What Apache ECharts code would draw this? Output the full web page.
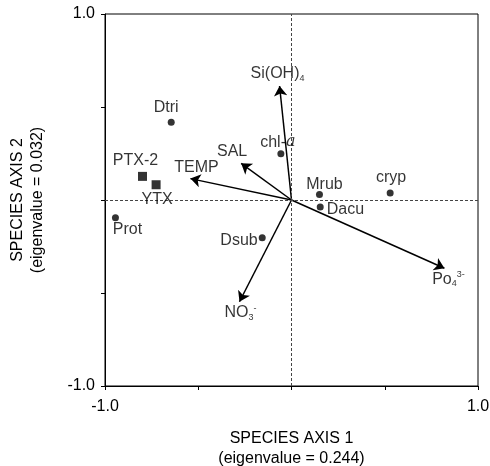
<!DOCTYPE html>
<html>
<head>
<meta charset="utf-8">
<script src="https://cdn.jsdelivr.net/npm/echarts@6/dist/echarts.min.js"></script>
<style>
  html, body { margin: 0; padding: 0; background: #fff; }
  #chart { width: 490px; height: 466px; }
</style>
</head>
<body>
<div id="chart"></div>
<script>
// species / toxin scores
var speciesNames = ['Dtri', 'chl-a', 'PTX-2', 'YTX', 'Prot', 'Dsub', 'Mrub', 'Dacu', 'cryp'];
var speciesX = [-0.645, -0.057, -0.799, -0.726, -0.944, -0.157, 0.150, 0.154, 0.529];
var speciesY = [0.418, 0.249, 0.127, 0.082, -0.095, -0.203, 0.029, -0.038, 0.038];
var toxinNames = ['PTX-2', 'YTX'];

// environmental vectors (arrow tips)
var envNames = ['Si(OH)4', 'SAL', 'TEMP', 'PO4', 'NO3'];
var envX = [-0.064, -0.27, -0.542, 0.82, -0.279];
var envY = [0.613, 0.197, 0.115, -0.367, -0.547];

var axisTicks = [-1, 1];

var FONT = 'Liberation Sans, Arial, sans-serif';

var envText = {
  'Si(OH)4': 'Si(OH){sub|4}',
  'SAL': 'SAL',
  'TEMP': 'TEMP',
  'PO4': 'Po{sub|4}{sup|3-}',
  'NO3': 'NO{sub|3}{sup|-}'
};
var speciesText = { 'chl-a': 'chl-{it|a}' };

var speciesLabel = {
  'Dtri': { position: 'top', offset: [-5, 2] },
  'chl-a': { position: 'top', offset: [-3, 5] },
  'PTX-2': { position: 'top', offset: [-7, 2] },
  'YTX': { position: 'bottom', offset: [1, -3] },
  'Prot': { position: 'bottom', offset: [12, -5] },
  'Dsub': { position: 'left', distance: 1, offset: [0, 3] },
  'Mrub': { position: 'top', offset: [5, 6] },
  'Dacu': { position: 'right', distance: 3, offset: [0, 3] },
  'cryp': { position: 'top', offset: [1, 1] }
};
var envLabel = {
  'Si(OH)4': { position: 'top', offset: [-2, 3] },
  'SAL': { position: 'top', offset: [-9, 2] },
  'TEMP': { position: 'top', offset: [6, 3] },
  'PO4': { position: 'bottom', offset: [4, -4] },
  'NO3': { position: 'bottom', offset: [1, -4] }
};

var rich = {
  sub: { fontSize: 9, fontFamily: FONT, color: '#000', padding: [9, 0, 0, 0] },
  sup: { fontSize: 9, fontFamily: FONT, color: '#000', padding: [0, 0, 9, 0] },
  it: { fontSize: 16, fontFamily: 'DejaVu Serif, serif', fontStyle: 'italic', color: '#000' }
};

function tickFmt(v) {
  return axisTicks.indexOf(v) >= 0 ? v.toFixed(1) : '';
}

var speciesData = speciesNames.map(function (n, i) {
  var lp = speciesLabel[n];
  return {
    name: n,
    value: [speciesX[i], speciesY[i]],
    symbol: toxinNames.indexOf(n) >= 0 ? 'rect' : 'circle',
    symbolSize: toxinNames.indexOf(n) >= 0 ? 9 : 7,
    label: {
      position: lp.position,
      offset: lp.offset,
      distance: lp.distance != null ? lp.distance : 5,
      formatter: speciesText[n] || n
    }
  };
});

var envTipData = envNames.map(function (n, i) {
  var lp = envLabel[n];
  return {
    name: n,
    value: [envX[i], envY[i]],
    label: { position: lp.position, offset: lp.offset, formatter: envText[n] }
  };
});

var arrowData = envNames.map(function (n, i) {
  return { coords: [[0, 0], [envX[i], envY[i]]] };
});

var chart = echarts.init(document.getElementById('chart'));
chart.setOption({
  animation: false,
  grid: {
    left: 105, right: 12, top: 14, bottom: 80,
    outerBoundsMode: 'none', containLabel: false,
    show: true, borderColor: '#000', borderWidth: 1, backgroundColor: 'transparent'
  },
  xAxis: {
    type: 'value', min: -1, max: 1, interval: 0.5,
    name: 'SPECIES AXIS 1\n(eigenvalue = 0.244)',
    nameLocation: 'middle', nameGap: 43,
    nameTextStyle: { fontFamily: FONT, fontSize: 16, color: '#000', lineHeight: 20 },
    axisLine: { onZero: false, lineStyle: { color: '#000', width: 1 } },
    axisTick: { show: true, inside: false, length: 4, lineStyle: { color: '#000' } },
    axisLabel: { formatter: tickFmt, fontFamily: FONT, fontSize: 16, color: '#000', margin: 13, showMinLabel: true, showMaxLabel: true },
    splitLine: { show: false }
  },
  yAxis: {
    type: 'value', min: -1, max: 1, interval: 0.5,
    name: 'SPECIES AXIS 2\n(eigenvalue = 0.032)',
    nameLocation: 'middle', nameGap: 57, nameRotate: 90,
    nameTextStyle: { fontFamily: FONT, fontSize: 16, color: '#000', lineHeight: 20 },
    axisLine: { show: true, onZero: false, lineStyle: { color: '#000', width: 1 } },
    axisTick: { show: true, inside: false, length: 4, lineStyle: { color: '#000' } },
    axisLabel: { formatter: tickFmt, fontFamily: FONT, fontSize: 16, color: '#000', margin: 10, showMinLabel: true, showMaxLabel: true },
    splitLine: { show: false }
  },
  series: [
    {
      type: 'lines',
      coordinateSystem: 'cartesian2d',
      symbol: ['none', 'arrow'],
      symbolSize: 10,
      lineStyle: { color: '#000', width: 1.5, opacity: 1 },
      data: arrowData,
      silent: true,
      z: 3
    },
    {
      type: 'scatter',
      symbol: 'circle',
      symbolSize: 2,
      itemStyle: { color: 'rgba(0,0,0,0)' },
      data: envTipData,
      label: { show: true, fontFamily: FONT, fontSize: 16, color: '#000', rich: rich },
      silent: true,
      z: 4
    },
    {
      type: 'scatter',
      data: speciesData,
      itemStyle: { color: '#000' },
      label: { show: true, fontFamily: FONT, fontSize: 16, color: '#000', rich: rich },
      markLine: {
        silent: true,
        symbol: 'none',
        label: { show: false },
        lineStyle: { color: '#444', type: [3, 2], width: 1 },
        data: [{ xAxis: 0 }, { yAxis: 0 }]
      },
      z: 5
    }
  ]
});
</script>
</body>
</html>
